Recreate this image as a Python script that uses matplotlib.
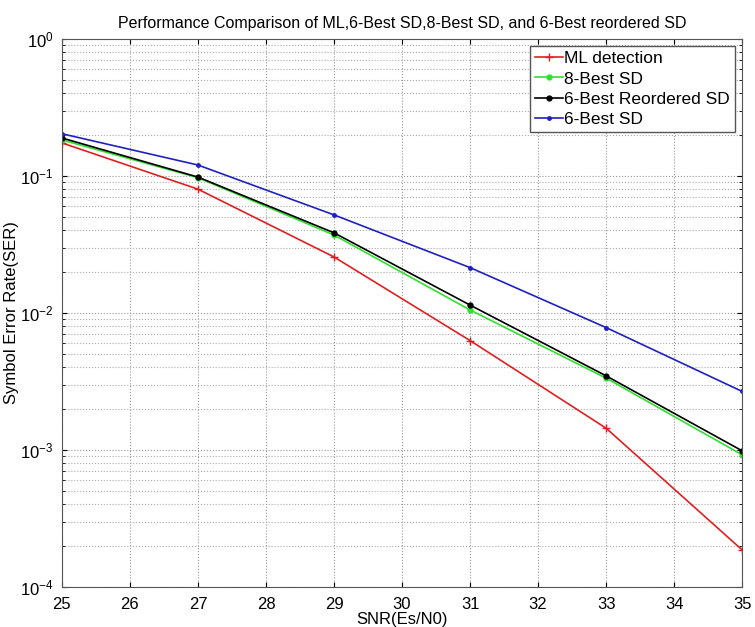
import matplotlib
matplotlib.use("Agg")
import matplotlib.pyplot as plt
from matplotlib.ticker import LogLocator, NullFormatter

plt.rcParams['font.family'] = ['Liberation Sans', 'DejaVu Sans']

snr = [25, 27, 29, 31, 33, 35]
ser_ml = [0.174, 0.080, 0.0256, 0.00628, 0.00144, 0.000186]
ser_8best = [0.183, 0.097, 0.037, 0.0105, 0.00334, 0.00092]
ser_6best_reord = [0.189, 0.098, 0.0384, 0.0114, 0.00347, 0.000984]
ser_6best = [0.203, 0.120, 0.0519, 0.0214, 0.00781, 0.00267]

x_ticks = list(range(25, 36))

fig = plt.figure(figsize=(7.55, 6.27), dpi=100)
ax = fig.add_axes([0.082, 0.064, 0.901, 0.874])

ax.semilogy(snr, ser_ml, color='#e02020', marker='+', markersize=6, lw=1.2, label='ML detection')
ax.semilogy(snr, ser_8best, color='#30e030', marker='o', markersize=3.5, lw=1.2, label='8-Best SD')
ax.semilogy(snr, ser_6best_reord, color='black', marker='o', markersize=3.5, lw=1.2, label='6-Best Reordered SD')
ax.semilogy(snr, ser_6best, color='#2020c0', marker='.', markersize=5, lw=1.2, label='6-Best SD')

ax.set_xlim(25, 35)
ax.set_ylim(1e-4, 1)
ax.set_xticks(x_ticks)
ax.yaxis.set_major_locator(LogLocator(base=10, numticks=10))
ax.yaxis.set_minor_locator(LogLocator(base=10, subs=range(2, 10), numticks=20))
ax.yaxis.set_minor_formatter(NullFormatter())
ax.grid(True, which='major', linestyle=':', color='#999999', lw=0.8)
ax.grid(True, which='minor', axis='y', linestyle=':', color='#aaaaaa', lw=0.8)
ax.tick_params(axis='both', which='major', labelsize=12, direction='in', top=True, right=True)
ax.tick_params(axis='x', which='major', pad=7)
ax.tick_params(axis='y', which='major', pad=6)
ax.tick_params(axis='y', which='minor', direction='in', right=True)
for s in ax.spines.values():
    s.set_color('#555555')

ax.set_xlabel('SNR(Es/N0)', fontsize=12, labelpad=0)
ax.set_ylabel('Symbol Error Rate(SER)', fontsize=12)
ax.yaxis.set_label_coords(-0.063, 0.5)
ax.set_title('Performance Comparison of ML,6-Best SD,8-Best SD, and 6-Best reordered SD', fontsize=11.5, pad=8)

leg = ax.legend(loc='upper right', fontsize=12.5, fancybox=False, edgecolor='#555555',
                handlelength=1.6, handletextpad=0.1, borderpad=0.3, labelspacing=0.3,
                borderaxespad=0.4, framealpha=1)
leg.get_frame().set_linewidth(1.0)

fig.savefig('out.png', dpi=100)
